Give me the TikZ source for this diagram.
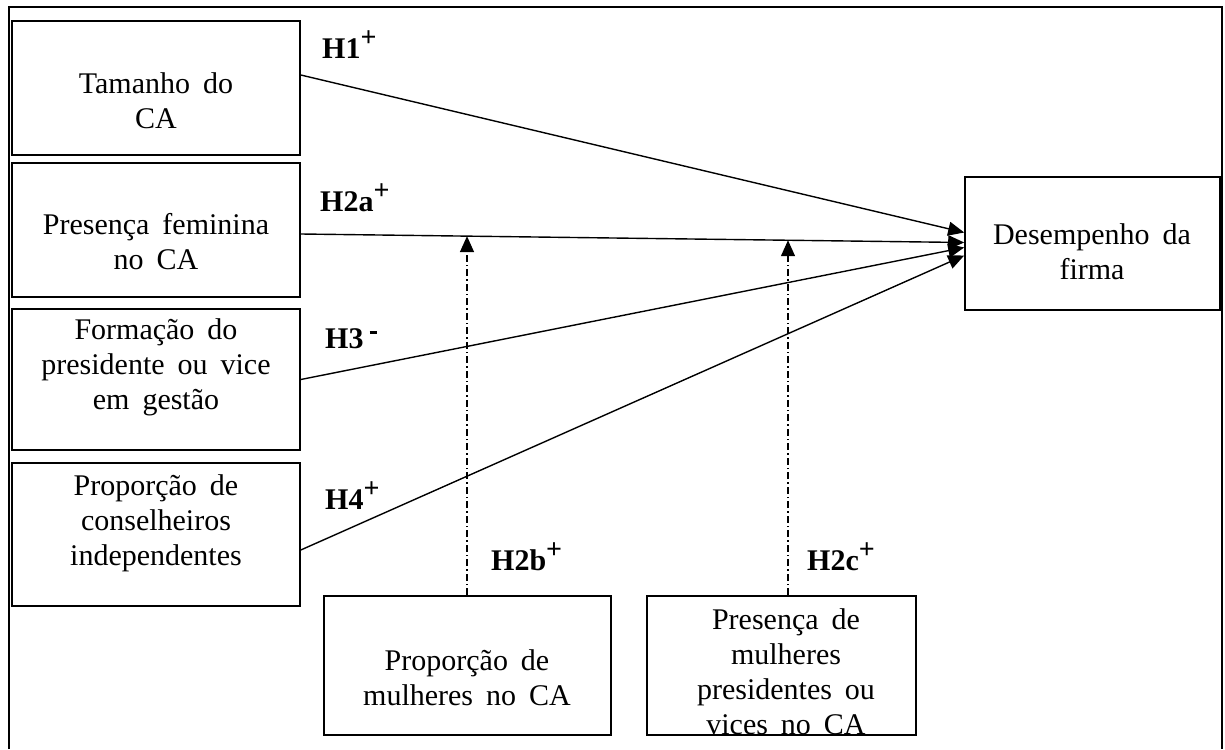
\documentclass[tikz,border=0pt]{standalone}
\usepackage{fontspec}
\setmainfont{Liberation Serif}
\usetikzlibrary{arrows.meta}
\newcommand{\supplus}{\raisebox{12pt}{\fontsize{28}{28}\selectfont +}}
\newcommand{\widesp}{\spaceskip=13pt plus 2pt\relax}
\begin{document}
\begin{tikzpicture}[x=1pt,y=-1pt,
  box/.style={draw,line width=1.6pt,inner sep=0pt},
  txt/.style={align=center,inner sep=0pt,font=\fontsize{30}{35}\selectfont\widesp},
  hyp/.style={anchor=base west,inner sep=0pt,font=\fontsize{30}{34}\selectfont\bfseries},
  arr/.style={line width=1.4pt,-{Triangle[length=16pt,width=14pt]}},
  modarr/.style={line width=1.4pt,dash pattern=on 7pt off 3pt on 1.5pt off 3pt,-{Triangle[length=16pt,width=14pt]}}]
\useasboundingbox (0,0) rectangle (1225,749);
\draw[line width=1.4pt] (9,749) -- (9,7) -- (1222,7) -- (1222,749);
% boxes
\node[box,minimum width=288pt,minimum height=134pt] (b1) at (156,88) {};
\node[box,minimum width=288pt,minimum height=134pt] (b2) at (156,230) {};
\node[box,minimum width=288pt,minimum height=141pt] (b3) at (156,379.5) {};
\node[box,minimum width=288pt,minimum height=143pt] (b4) at (156,534.5) {};
\node[box,minimum width=255pt,minimum height=133pt] (tg) at (1092.5,243.5) {};
\node[box,minimum width=287pt,minimum height=139pt] (bA) at (467.5,665.5) {};
\node[box,minimum width=269pt,minimum height=139pt] (bB) at (781.5,665.5) {};
% texts
\node[txt] (t1) at (156,101) {Tamanho do\\CA};
\node[txt] (t2) at (156,242) {Presença feminina\\no CA};
\node[txt] (t3) at (156,367) {Formação do\\presidente ou vice\\em gestão};
\node[txt] (t4) at (156,523) {Proporção de\\conselheiros\\independentes};
\node[txt] (tt) at (1092,252) {Desempenho da\\firma};
\node[txt] (tA) at (467,678) {Proporção de\\mulheres no CA};
\node[txt] (tB) at (786,672) {Presença de\\mulheres\\presidentes ou\\vices no CA};
% arrows
\draw[arr] ([yshift=13pt]b1.east) -- ([yshift=11pt]tg.west);
\draw[arr] ([yshift=-4pt]b2.east) -- ([yshift=1pt]tg.west)
  coordinate[pos=0.251] (m1) coordinate[pos=0.734] (m2);
\draw[arr] (b3.east) -- ([yshift=-4pt]tg.west);
\draw[arr] ([yshift=-15.5pt]b4.east) -- ([yshift=-12pt]tg.west);
\draw[modarr] ([xshift=-0.5pt]bA.north) -- ([xshift=-0.5pt]bA.north |- m1);
\draw[modarr] ([xshift=6.5pt]bB.north) -- ([xshift=6.5pt]bB.north |- m2);
% hypothesis labels
\node[hyp] (h1) at (322,59) {H1\supplus};
\node[hyp] (h2a) at (320,211) {H2a\supplus};
\node[hyp] (h3) at (325,348) {H3\hspace{6pt}\raisebox{14pt}{\rule{7pt}{3pt}}};
\node[hyp] (h4) at (325,509) {H4\supplus};
\node[hyp] (h2b) at (491,570) {H2b\supplus};
\node[hyp] (h2c) at (807,570) {H2c\supplus};
\end{tikzpicture}
\end{document}
